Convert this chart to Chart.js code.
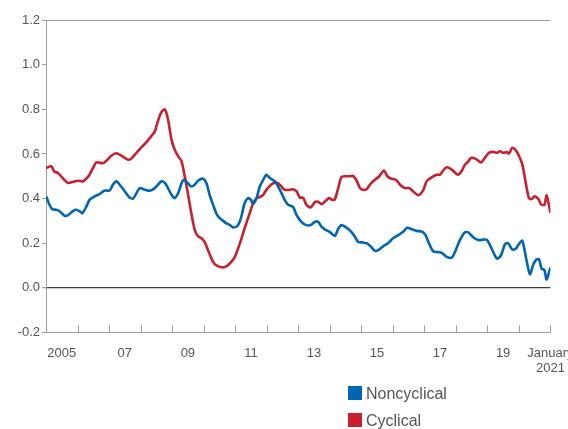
<!DOCTYPE html>
<html>
<head>
<meta charset="utf-8">
<script src="https://cdn.jsdelivr.net/npm/chart.js@4.4.1/dist/chart.umd.min.js"></script>
<style>
  body { margin: 0; background: #fff; }
  #box { position: relative; width: 568px; height: 429px; }
  #legend { position: absolute; left: 348px; top: 385px; font-family: "Liberation Sans", Arial, sans-serif; font-size: 16px; color: #555; }
  .item { height: 27px; white-space: nowrap; }
  .sw { display: inline-block; width: 14px; height: 14px; vertical-align: -1px; margin-right: 4px; }
</style>
</head>
<body>
<div id="box">
  <canvas id="grafico"></canvas>
  <div id="legend"></div>
</div>
<script>
// dati (anni decimali)
var noncyclicalDates = [2005.01, 2005.09, 2005.20, 2005.33, 2005.43, 2005.59, 2005.70, 2005.86, 2005.96, 2006.07, 2006.15, 2006.28, 2006.38, 2006.54, 2006.70, 2006.86, 2007.02, 2007.12, 2007.23, 2007.34, 2007.50, 2007.65, 2007.76, 2007.87, 2007.97, 2008.13, 2008.29, 2008.45, 2008.55, 2008.66, 2008.77, 2008.87, 2008.98, 2009.08, 2009.19, 2009.30, 2009.38, 2009.49, 2009.61, 2009.72, 2009.82, 2009.98, 2010.09, 2010.19, 2010.30, 2010.41, 2010.51, 2010.62, 2010.72, 2010.83, 2010.93, 2011.07, 2011.18, 2011.30, 2011.41, 2011.50, 2011.57, 2011.68, 2011.78, 2011.89, 2011.99, 2012.10, 2012.26, 2012.42, 2012.57, 2012.68, 2012.84, 2012.95, 2013.10, 2013.26, 2013.39, 2013.53, 2013.63, 2013.74, 2013.84, 2014.00, 2014.16, 2014.27, 2014.37, 2014.53, 2014.69, 2014.80, 2014.90, 2015.06, 2015.19, 2015.33, 2015.43, 2015.54, 2015.70, 2015.85, 2016.01, 2016.17, 2016.33, 2016.46, 2016.60, 2016.76, 2016.93, 2017.04, 2017.15, 2017.28, 2017.44, 2017.55, 2017.71, 2017.87, 2017.97, 2018.13, 2018.29, 2018.40, 2018.55, 2018.71, 2018.87, 2018.98, 2019.11, 2019.30, 2019.43, 2019.56, 2019.66, 2019.79, 2019.90, 2020.00, 2020.11, 2020.22, 2020.35, 2020.46, 2020.56, 2020.64, 2020.72, 2020.81, 2020.88, 2021.00];
var noncyclicalValues = [0.409, 0.379, 0.352, 0.35, 0.343, 0.323, 0.326, 0.345, 0.35, 0.343, 0.334, 0.364, 0.394, 0.41, 0.42, 0.436, 0.436, 0.462, 0.477, 0.462, 0.432, 0.405, 0.40, 0.424, 0.447, 0.44, 0.435, 0.447, 0.462, 0.477, 0.47, 0.447, 0.417, 0.402, 0.424, 0.469, 0.484, 0.47, 0.454, 0.462, 0.48, 0.489, 0.469, 0.417, 0.372, 0.331, 0.312, 0.30, 0.289, 0.282, 0.271, 0.277, 0.31, 0.379, 0.402, 0.394, 0.376, 0.402, 0.454, 0.484, 0.507, 0.492, 0.477, 0.439, 0.394, 0.372, 0.362, 0.326, 0.296, 0.281, 0.281, 0.296, 0.296, 0.274, 0.262, 0.251, 0.233, 0.265, 0.281, 0.27, 0.25, 0.229, 0.206, 0.203, 0.199, 0.181, 0.166, 0.169, 0.187, 0.20, 0.222, 0.236, 0.251, 0.269, 0.263, 0.255, 0.252, 0.236, 0.199, 0.164, 0.16, 0.157, 0.139, 0.135, 0.16, 0.214, 0.249, 0.248, 0.227, 0.214, 0.216, 0.216, 0.184, 0.131, 0.145, 0.196, 0.20, 0.172, 0.175, 0.196, 0.211, 0.139, 0.061, 0.106, 0.127, 0.128, 0.086, 0.08, 0.037, 0.091];

var cyclicalDates = [2005.00, 2005.17, 2005.27, 2005.38, 2005.54, 2005.70, 2005.86, 2006.01, 2006.17, 2006.28, 2006.38, 2006.49, 2006.60, 2006.81, 2006.92, 2007.07, 2007.23, 2007.44, 2007.60, 2007.71, 2007.87, 2008.03, 2008.18, 2008.34, 2008.45, 2008.55, 2008.66, 2008.77, 2008.87, 2008.98, 2009.08, 2009.19, 2009.30, 2009.40, 2009.50, 2009.61, 2009.72, 2009.82, 2009.93, 2010.03, 2010.14, 2010.25, 2010.35, 2010.51, 2010.67, 2010.83, 2010.99, 2011.15, 2011.30, 2011.46, 2011.57, 2011.68, 2011.78, 2011.89, 2011.99, 2012.10, 2012.21, 2012.34, 2012.45, 2012.57, 2012.73, 2012.84, 2012.95, 2013.05, 2013.16, 2013.26, 2013.39, 2013.53, 2013.63, 2013.74, 2013.84, 2013.98, 2014.09, 2014.16, 2014.27, 2014.37, 2014.48, 2014.64, 2014.74, 2014.85, 2014.96, 2015.06, 2015.17, 2015.27, 2015.43, 2015.57, 2015.72, 2015.82, 2015.93, 2016.10, 2016.23, 2016.38, 2016.52, 2016.65, 2016.81, 2016.97, 2017.07, 2017.23, 2017.39, 2017.50, 2017.60, 2017.71, 2017.87, 2018.06, 2018.18, 2018.29, 2018.37, 2018.48, 2018.63, 2018.80, 2018.92, 2019.05, 2019.19, 2019.30, 2019.40, 2019.51, 2019.61, 2019.69, 2019.79, 2019.90, 2020.00, 2020.11, 2020.22, 2020.32, 2020.41, 2020.49, 2020.62, 2020.70, 2020.81, 2020.88, 2021.00];
var cyclicalValues = [0.537, 0.545, 0.52, 0.515, 0.49, 0.47, 0.475, 0.48, 0.477, 0.49, 0.507, 0.537, 0.562, 0.558, 0.57, 0.592, 0.603, 0.588, 0.574, 0.58, 0.605, 0.63, 0.652, 0.68, 0.70, 0.747, 0.787, 0.80, 0.755, 0.664, 0.62, 0.59, 0.567, 0.50, 0.424, 0.334, 0.259, 0.232, 0.222, 0.206, 0.169, 0.131, 0.106, 0.094, 0.093, 0.109, 0.139, 0.199, 0.267, 0.334, 0.379, 0.402, 0.407, 0.417, 0.439, 0.457, 0.469, 0.47, 0.457, 0.439, 0.439, 0.442, 0.432, 0.405, 0.403, 0.372, 0.36, 0.384, 0.386, 0.375, 0.386, 0.402, 0.394, 0.396, 0.447, 0.496, 0.50, 0.50, 0.502, 0.481, 0.447, 0.439, 0.442, 0.462, 0.484, 0.50, 0.526, 0.502, 0.49, 0.484, 0.462, 0.447, 0.447, 0.432, 0.415, 0.439, 0.477, 0.495, 0.507, 0.507, 0.526, 0.54, 0.53, 0.507, 0.522, 0.552, 0.562, 0.582, 0.578, 0.562, 0.582, 0.605, 0.609, 0.605, 0.612, 0.605, 0.608, 0.602, 0.627, 0.617, 0.592, 0.552, 0.469, 0.402, 0.398, 0.41, 0.398, 0.374, 0.372, 0.414, 0.337];

var seriesNames = ['Noncyclical', 'Cyclical'];
var seriesColors = ['#0066b3', '#c8202f'];
var yTicks = [-0.2, 0, 0.2, 0.4, 0.6, 0.8, 1.0, 1.2];
var yearTicks = [2005, 2006, 2007, 2008, 2009, 2010, 2011, 2012, 2013, 2014, 2015, 2016, 2017, 2018, 2019, 2020, 2021];
var xLabelPos = [2005.5, 2007.5, 2009.5, 2011.5, 2013.5, 2015.5, 2017.5, 2019.5, 2021];
var xLabelText = ['2005', '07', '09', '11', '13', '15', '17', '19', ['January', '2021']];

function punti(date, valori) {
  var out = [];
  for (var i = 0; i < date.length; i++) {
    out.push({ x: date[i], y: valori[i] });
  }
  return out;
}

var grigio = '#a69d95';

// tacche degli anni verso l'interno del grafico
var tacchePlugin = {
  id: 'tacche',
  afterDraw: function (chart) {
    var ctx = chart.ctx;
    var x = chart.scales.x;
    var bottom = chart.chartArea.bottom;
    ctx.save();
    ctx.strokeStyle = grigio;
    ctx.lineWidth = 1;
    for (var i = 1; i < yearTicks.length; i++) {
      var px = Math.round(x.getPixelForValue(yearTicks[i])) + 0.5;
      ctx.beginPath();
      ctx.moveTo(px, bottom);
      ctx.lineTo(px, bottom - 7);
      ctx.stroke();
    }
    ctx.restore();
  }
};

Chart.defaults.font.family = '"Liberation Sans", Arial, sans-serif';
Chart.defaults.font.size = 13;
Chart.defaults.color = '#555';

var myChart = new Chart(document.getElementById('grafico'), {
  type: 'line',
  data: {
    datasets: [{
      label: seriesNames[0],
      data: punti(noncyclicalDates, noncyclicalValues),
      borderColor: seriesColors[0],
      backgroundColor: seriesColors[0],
      borderWidth: 2.6,
      pointRadius: 0,
      tension: 0.25
    }, {
      label: seriesNames[1],
      data: punti(cyclicalDates, cyclicalValues),
      borderColor: seriesColors[1],
      backgroundColor: seriesColors[1],
      borderWidth: 2.6,
      pointRadius: 0,
      tension: 0.25
    }]
  },
  options: {
    responsive: true,
    maintainAspectRatio: false,
    animation: false,
    layout: { padding: { top: 20, right: 17.6, left: 0, bottom: 0 } },
    plugins: {
      legend: { display: false },
      tooltip: { enabled: false }
    },
    scales: {
      x: {
        type: 'linear',
        min: 2005,
        max: 2021,
        afterBuildTicks: function (scale) {
          scale.ticks = xLabelPos.map(function (v) { return { value: v }; });
        },
        afterFit: function (scale) {
          scale.height = 429 - 332.5;
          scale.paddingLeft = 0;
          scale.paddingRight = 0;
        },
        ticks: {
          autoSkip: false,
          maxRotation: 0,
          padding: 5,
          color: '#555',
          callback: function (value) {
            var i = xLabelPos.indexOf(value);
            return i >= 0 ? xLabelText[i] : '';
          }
        },
        grid: { display: false },
        border: { display: true, color: grigio, width: 1 }
      },
      y: {
        min: -0.2,
        max: 1.2,
        afterBuildTicks: function (scale) {
          scale.ticks = yTicks.map(function (v) { return { value: v }; });
        },
        afterFit: function (scale) {
          scale.width = 46;
        },
        ticks: {
          padding: 2,
          color: '#555',
          callback: function (value) { return value.toFixed(1); }
        },
        grid: {
          drawOnChartArea: true,
          tickLength: 4,
          tickColor: grigio,
          lineWidth: function (ctx) { return ctx.tick && ctx.tick.value === 0 ? 1.3 : 1; },
          color: function (ctx) {
            if (!ctx.tick) return 'rgba(0,0,0,0)';
            if (ctx.tick.value === 0) return '#3d3d3d';
            if (Math.abs(ctx.tick.value - 1.2) < 1e-9) return grigio;
            return 'rgba(0,0,0,0)';
          }
        },
        border: { display: true, color: grigio, width: 1 }
      }
    }
  },
  plugins: [tacchePlugin]
});

// legenda verticale sotto il grafico
var legenda = document.getElementById('legend');
for (var s = 0; s < seriesNames.length; s++) {
  var riga = document.createElement('div');
  riga.className = 'item';
  riga.innerHTML = '<span class="sw" style="background:' + seriesColors[s] + '"></span>' + seriesNames[s];
  legenda.appendChild(riga);
}
</script>
</body>
</html>
